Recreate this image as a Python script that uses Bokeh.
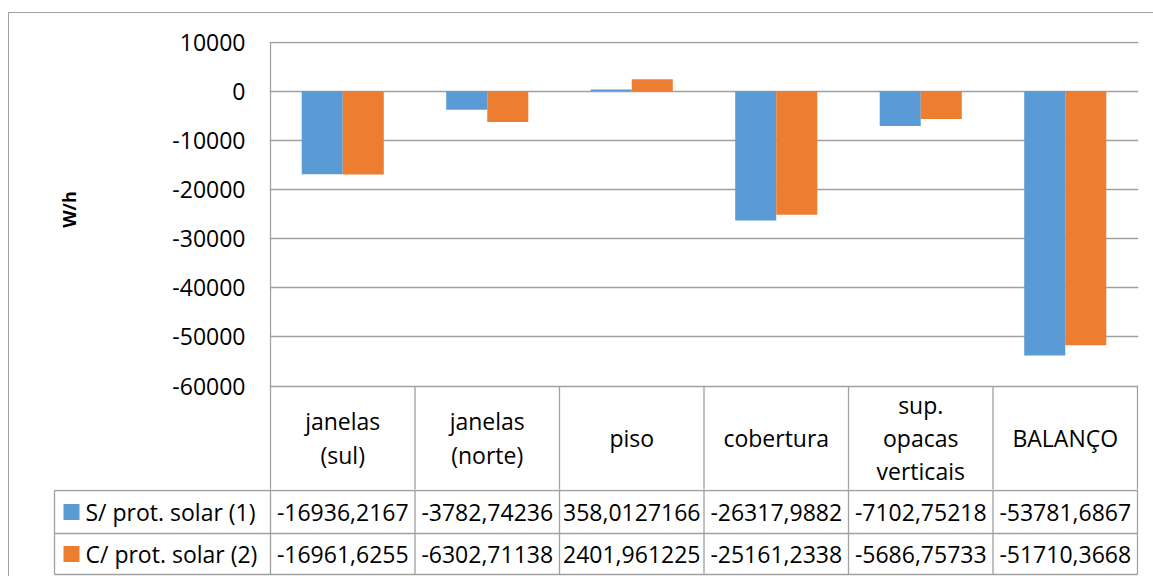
import math
from bokeh.plotting import figure
from bokeh.models import FactorRange, Range1d, ColumnDataSource, FixedTicker
from bokeh.transform import dodge
from bokeh.layouts import column, row
from bokeh.embed import file_html
from bokeh.resources import INLINE
from bokeh.core.properties import value

# ---------------- data ----------------
categories = ["janelas\n(sul)", "janelas\n(norte)", "piso", "cobertura",
              "sup.\nopacas\nverticais", "BALANÇO"]
series_names = ["S/ prot. solar (1)", "C/ prot. solar (2)"]
s1_values = [-16936.2167, -3782.74236, 358.0127166, -26317.9882, -7102.75218, -53781.6867]
s2_values = [-16961.6255, -6302.71138, 2401.961225, -25161.2338, -5686.75733, -51710.3668]
y_ticks = [10000, 0, -10000, -20000, -30000, -40000, -50000, -60000]
y_tick_labels = ["10000", "0", "-10000", "-20000", "-30000", "-40000", "-50000", "-60000"]
y_label = "W/h"

# ---------------- style / layout constants ----------------
FONT = "Open Sans"
BLUE = "#5B9BD5"
ORANGE = "#ED7D31"
GRID = "#a0a0a0"
LW = 1.3
N = len(categories)

MARGIN_LEFT = 8
MARGIN_TOP = 12
CANVAS_LEFT = MARGIN_LEFT + 1
CANVAS_TOP = MARGIN_TOP + 1
W = 1153 - CANVAS_LEFT
PL_W = 100                # width of the small panel holding the y title

FRAME_TOP = 41            # page y of the 10000 line
FRAME_BOT = 489           # page y of p1 frame bottom (bottom of header row)
PX_PER_UNIT = (385 - 41) / 70000.0

FRAME_L = 269             # page x of p1 frame left
FRAME_R = 1138            # page x of p1 frame right
P1_LEFT_PAGE = CANVAS_LEFT + PL_W
LEFT = FRAME_L - P1_LEFT_PAGE
RIGHT = 1153 - FRAME_R
FRAME_W = FRAME_R - FRAME_L
PAD = 1 / 144.5
CW = FRAME_W / (N + 2 * PAD)

# ---------------- y title panel ----------------
H1 = FRAME_BOT - CANVAS_TOP
pl = figure(width=PL_W, height=H1, title=None,
            x_range=Range1d(CANVAS_LEFT, P1_LEFT_PAGE),
            y_range=Range1d(FRAME_BOT, CANVAS_TOP),
            x_axis_location=None, y_axis_location=None,
            min_border=0, output_backend="svg", toolbar_location=None)
pl.frame_align = False
pl.outline_line_color = None
pl.grid.visible = False
pl.text(x=[68], y=[209], text=[y_label], angle=math.pi / 2,
        text_font=value(FONT), text_font_style="bold", text_font_size="18px",
        text_color="#000000", text_align="center", text_baseline="middle")

# ---------------- chart ----------------
y_end = 10000 + 0.5 / PX_PER_UNIT
frame_h = FRAME_BOT - FRAME_TOP
y_start = y_end - frame_h / PX_PER_UNIT

p1 = figure(width=W - PL_W, height=H1, title=None,
            x_range=FactorRange(*categories, range_padding=PAD, range_padding_units="absolute"),
            y_range=Range1d(y_start, y_end),
            x_axis_location=None,
            min_border_left=LEFT, min_border_right=RIGHT,
            min_border_top=FRAME_TOP - CANVAS_TOP, min_border_bottom=0,
            output_backend="svg", toolbar_location=None)
p1.frame_align = False
p1.outline_line_color = None
p1.xgrid.visible = False
p1.ygrid.grid_line_color = GRID
p1.ygrid.grid_line_width = LW
p1.extra_y_ranges = {"tbl": Range1d(FRAME_BOT, FRAME_TOP)}   # page-y units, downward

ax = p1.yaxis[0]
ax.ticker = FixedTicker(ticks=y_ticks)
ax.major_label_overrides = {t: l for t, l in zip(y_ticks, y_tick_labels)}
ax.axis_line_color = None
ax.major_tick_line_color = None
ax.minor_tick_line_color = None
ax.major_tick_out = 0
ax.major_tick_in = 0
ax.major_label_standoff = 24
ax.major_label_text_font = FONT
ax.major_label_text_font_size = "23px"
ax.major_label_text_color = "#000000"

src = ColumnDataSource(dict(cat=categories, s1=s1_values, s2=s2_values))
BW = 0.284
p1.vbar(x=dodge("cat", -BW / 2, range=p1.x_range), top="s1", width=BW,
        source=src, fill_color=BLUE, line_color=None)
p1.vbar(x=dodge("cat", BW / 2, range=p1.x_range), top="s2", width=BW,
        source=src, fill_color=ORANGE, line_color=None)

# vertical axis line + header-row column separators
cols = list(range(N + 1))
p1.segment(x0=cols, x1=cols,
           y0=[max(y_ticks)] + [min(y_ticks)] * N, y1=[y_start] * (N + 1),
           line_color=GRID, line_width=LW)

# header row (category names)
p1.text(x=[i + 0.5 for i in range(N)], y=[437.5] * N, y_range_name="tbl",
        text=categories, text_font=value(FONT), text_font_size="23px",
        text_color="#000000", text_align="center", text_baseline="middle",
        text_line_height=1.04)

# ---------------- data table rows ----------------
T_FRAME_L = 49
T_LEFT = T_FRAME_L - CANVAS_LEFT
T_RIGHT = RIGHT
P2_TOP = FRAME_BOT
P2_BOT = 576
x0 = -(270 - T_FRAME_L) / CW
x1 = x0 + (FRAME_R - T_FRAME_L) / CW
LEG_L = -(270 - 54) / CW

p2 = figure(width=W, height=P2_BOT - P2_TOP, title=None,
            x_range=Range1d(x0, x1), y_range=Range1d(P2_BOT, P2_TOP),
            x_axis_location=None, y_axis_location=None,
            min_border_left=T_LEFT, min_border_right=T_RIGHT,
            min_border_top=0, min_border_bottom=0,
            output_backend="svg", toolbar_location=None)
p2.frame_align = False
p2.outline_line_color = None
p2.grid.visible = False

ROW_LINES = [490, 533, 574]
R1 = (ROW_LINES[0] + ROW_LINES[1]) / 2
R2 = (ROW_LINES[1] + ROW_LINES[2]) / 2

p2.segment(x0=cols + [LEG_L], x1=cols + [LEG_L],
           y0=[P2_TOP - 2] * (N + 1) + [ROW_LINES[0]], y1=[ROW_LINES[2]] * (N + 2),
           line_color=GRID, line_width=LW)
p2.segment(x0=[LEG_L] * 3, x1=[N] * 3, y0=ROW_LINES, y1=ROW_LINES,
           line_color=GRID, line_width=LW)

def fmt(v):
    return str(v).replace(".", ",")

xs = [i + 0.5 for i in range(N)]
for vals, yy in ((s1_values, R1), (s2_values, R2)):
    p2.text(x=xs, y=[yy] * N, text=[fmt(v) for v in vals],
            text_font=value(FONT), text_font_size="23px", text_color="#000000",
            text_align="center", text_baseline="middle")

p2.scatter(x=[LEG_L + 17 / CW] * 2, y=[R1, R2], marker="square", size=16,
           fill_color=[BLUE, ORANGE], line_color=None)
p2.text(x=[LEG_L + 31 / CW] * 2, y=[R1, R2], text=series_names,
        text_font=value(FONT), text_font_size="23px", text_color="#000000",
        text_align="left", text_baseline="middle")

layout = column(row(pl, p1), p2,
                styles={"border-left": "1px solid #a0a0a0",
                        "border-top": "1px solid #a0a0a0",
                        "margin-top": "%dpx" % MARGIN_TOP,
                        "margin-left": "%dpx" % MARGIN_LEFT})

open("out.html", "w").write(file_html(layout, INLINE))
